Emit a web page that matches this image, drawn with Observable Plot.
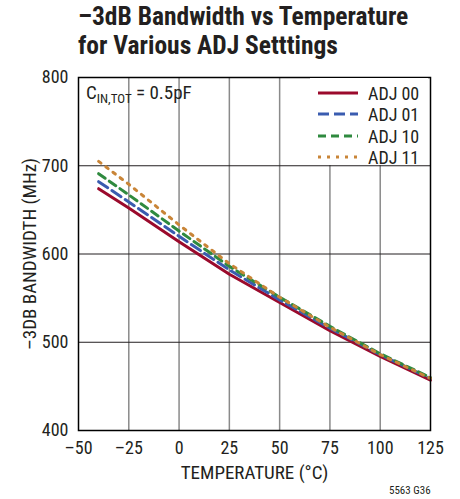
<!DOCTYPE html>
<html><head><meta charset="utf-8">
<script src="https://cdn.jsdelivr.net/npm/d3@7"></script>
<script src="https://cdn.jsdelivr.net/npm/@observablehq/plot@0.6"></script>
<style>
body{margin:0;background:#fff;}
#wrap{position:relative;width:460px;height:499px;font-family:"Liberation Sans Narrow","Roboto Condensed","DejaVu Sans Condensed",sans-serif;font-stretch:condensed;color:#231f20;}
#title{position:absolute;left:78px;top:2px;font-weight:bold;font-size:25.5px;line-height:28.5px;white-space:nowrap;}
#note{position:absolute;left:86px;top:82.6px;font-size:19px;line-height:19px;white-space:nowrap;}
#note sub{font-size:13px;vertical-align:-4px;line-height:0;}
#legend{position:absolute;left:310px;top:78px;width:118px;height:87px;background:#fff;}
.row{position:absolute;left:0;height:20px;width:118px;font-size:18px;line-height:18px;white-space:nowrap;}
.row svg{position:absolute;left:8px;top:6px;}
.row span{position:absolute;left:58px;top:0;}
#code{position:absolute;left:389px;top:484px;font-size:11px;}
</style></head>
<body><div id="wrap">
<div id="title">–3dB Bandwidth vs Temperature<br>for Various ADJ Setttings</div>
<div id="chart"></div>
<div id="note">C<sub>IN,TOT</sub> = 0.5pF</div>
<div id="legend"></div>
<div id="code">5563 G36</div>
</div>
<script>
const temps = [-40, -25, 0, 25, 50, 75, 100, 125];
const adj00 = [674, 652, 614, 577, 545, 513, 484, 457];
const adj01 = [682, 659, 620, 582, 548, 516, 486, 459];
const adj10 = [691, 667, 626, 586, 551, 518, 487, 460];
const adj11 = [705, 679, 633, 589, 551, 517, 486, 459];
const seriesNames = ["ADJ 00", "ADJ 01", "ADJ 10", "ADJ 11"];
const seriesValues = [adj00, adj01, adj10, adj11];
const colors = ["#9b0a2c", "#3a5cb0", "#2f8a3f", "#c98538"];
const dashes = [null, "11,5", "8,5", "3,6"];
const xTicks = [-50, -25, 0, 25, 50, 75, 100, 125];
const yTicks = [400, 500, 600, 700, 800];

const data = seriesNames.flatMap((name, i) => temps.map((t, j) => ({name, t, v: seriesValues[i][j]})));

const font = '"Liberation Sans Narrow","Roboto Condensed","DejaVu Sans Condensed",sans-serif';
const plot = Plot.plot({
  width: 460, height: 499,
  marginLeft: 78, marginRight: 30, marginTop: 77, marginBottom: 69,
  style: {fontFamily: font, fontSize: "18px", color: "#231f20", background: "#fff"},
  x: {domain: [-50, 125], ticks: xTicks, tickSize: 0, tickPadding: 11, tickFormat: d => d < 0 ? "–" + Math.abs(d) : d, label: "TEMPERATURE (°C)", labelArrow: "none", labelAnchor: "center", labelOffset: 48},
  y: {domain: [400, 800], ticks: yTicks, tickSize: 0, tickPadding: 10, label: "–3DB BANDWIDTH (MHz)", labelArrow: "none", labelAnchor: "center", labelOffset: 56},
  marks: [
    Plot.ruleX(xTicks.slice(1, -1), {stroke: "#8a8a8a", strokeWidth: 1.5}),
    Plot.ruleY(yTicks.slice(1, -1), {stroke: "#231f20", strokeWidth: 1}),
    ...seriesNames.map((name, i) => Plot.line(data.filter(d => d.name === name), {x: "t", y: "v", stroke: colors[i], strokeWidth: 3, strokeDasharray: dashes[i]})),
    Plot.frame({stroke: "#000", strokeWidth: 1.5})
  ]
});
plot.querySelectorAll("g[aria-label='x-axis label'] text, g[aria-label='y-axis label'] text").forEach(t => t.style.fontSize = "19px");
document.getElementById("chart").appendChild(plot);

const legend = document.getElementById("legend");
seriesNames.forEach((name, i) => {
  const row = document.createElement("div");
  row.className = "row";
  row.style.top = (6.5 + i * 21.5) + "px";
  row.innerHTML = `<svg width="42" height="4"><line x1="0" x2="40" y1="2" y2="2" stroke="${colors[i]}" stroke-width="3" ${dashes[i] ? `stroke-dasharray="${dashes[i]}"` : ""}/></svg><span>${name}</span>`;
  legend.appendChild(row);
});
</script>
</body></html>
